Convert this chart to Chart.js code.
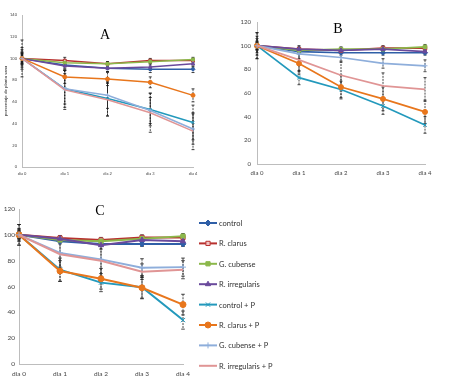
<!DOCTYPE html>
<html>

<head>
    <meta charset="utf-8">
    <title>porcentaje de planta sana</title>
    <script src="https://cdn.jsdelivr.net/npm/chart.js@4.4.6/dist/chart.umd.min.js"></script>
    <style>
        body { margin: 0; background: #fff; }
        #wrap { position: relative; width: 450px; height: 383px; overflow: hidden; }
        canvas { position: absolute; }
    </style>
</head>

<body>
    <div id="wrap">
        <canvas id="chartA" width="205" height="180" style="left:0;top:0"></canvas>
        <canvas id="chartB" width="225" height="180" style="left:225px;top:0"></canvas>
        <canvas id="chartC" width="450" height="193" style="left:0;top:190px"></canvas>
    </div>
    <script>
        const days = ["dia 0", "dia 1", "dia 2", "dia 3", "dia 4"]
        const seriesNames = ["control", "R. clarus", "G. cubense", "R. irregularis",
            "control + P", "R. clarus + P", "G. cubense + P", "R. irregularis + P"]

        // panel A (one row per series, same order as seriesNames)
        const valuesA = [
            [100, 94, 91, 90, 90],
            [100, 98, 95, 98, 98],
            [100, 96, 95, 97, 99],
            [100, 93, 91, 92, 95],
            [100, 72, 63, 53, 41],
            [100, 83, 81, 78, 66],
            [100, 72, 66, 52, 35],
            [100, 71, 62, 50, 33],
        ]
        const errorsA = [
            [5, 3, 3, 3, 3],
            [3, 3, 2, 2, 2],
            [4, 3, 2, 2, 2],
            [5, 3, 3, 3, 3],
            [17, 17, 16, 15, 16],
            [10, 6, 6, 5, 6],
            [6, 14, 12, 12, 14],
            [8, 18, 15, 18, 17],
        ]

        // panel B
        const valuesB = [
            [100, 95, 94, 94, 94],
            [100, 97, 96, 98, 98],
            [100, 96, 97, 97, 99],
            [100, 97, 96, 97, 95],
            [100, 73, 63, 49, 33],
            [100, 85, 65, 55, 44],
            [100, 93, 90, 85, 83],
            [100, 88, 75, 66, 63],
        ]
        const errorsB = [
            [4, 2, 2, 2, 2],
            [3, 2, 2, 2, 2],
            [3, 2, 2, 2, 2],
            [11, 3, 2, 2, 2],
            [11, 6, 7, 7, 7],
            [6, 9, 10, 10, 10],
            [3, 4, 4, 4, 5],
            [8, 10, 12, 11, 10],
        ]

        // panel C
        const valuesC = [
            [100, 95, 93, 93, 93],
            [100, 97.5, 96, 98, 98],
            [100, 96, 95, 97, 99],
            [100, 97, 92, 96, 95],
            [100, 73, 63, 59.5, 34],
            [100, 72, 66, 59, 46],
            [100, 86, 81, 74.5, 75],
            [100, 85, 80, 71.5, 73],
        ]
        const errorsC = [
            [3, 2, 2, 2, 2],
            [2, 2, 2, 2, 2],
            [2, 2, 2, 2, 2],
            [8, 2, 3, 2, 2],
            [8, 9, 7, 9, 7],
            [5, 8, 8, 8, 8],
            [4, 12, 14, 7, 7],
            [3, 10, 12, 6, 7],
        ]

        const colors = ["#2f5fa7", "#b8312f", "#8cb84b", "#6a4a9c",
            "#2399bc", "#e8761c", "#8eaedb", "#e09595"]
        const fills = ["#2f5fa7", "#f2c4c4", "#8cb84b", "#6a4a9c",
            "#2399bc", "#e8761c", "#8eaedb", "#e09595"]
        const styles = ["rectRot", "rect", "rect", "triangle", "crossRot", "circle", "cross", "circle"]

        const FONT = "Lato, 'Open Sans', sans-serif"

        const errorBars = {
            id: "errorBars",
            beforeDatasetsDraw(chart, args, opts) {
                const ctx = chart.ctx
                const y = chart.scales.y
                ctx.save()
                ctx.strokeStyle = "#1a1a1a"
                ctx.lineWidth = 0.8
                chart.data.datasets.forEach((ds, i) => {
                    const meta = chart.getDatasetMeta(i)
                    ds.errors.forEach((e, j) => {
                        const px = meta.data[j].x
                        const top = y.getPixelForValue(ds.data[j] + e)
                        const bot = y.getPixelForValue(ds.data[j] - e)
                        ctx.setLineDash([2, 1])
                        ctx.beginPath()
                        ctx.moveTo(px, top); ctx.lineTo(px, bot)
                        ctx.stroke()
                        ctx.setLineDash([])
                        ctx.beginPath()
                        ctx.moveTo(px - opts.cap, top); ctx.lineTo(px + opts.cap, top)
                        ctx.moveTo(px - opts.cap, bot); ctx.lineTo(px + opts.cap, bot)
                        ctx.stroke()
                    })
                })
                ctx.restore()
            },
        }

        const panelLetter = {
            id: "panelLetter",
            afterDraw(chart, args, opts) {
                const ctx = chart.ctx
                ctx.save()
                ctx.font = opts.size + "px 'Liberation Serif', 'DejaVu Serif', serif"
                ctx.fillStyle = "#000"
                ctx.textAlign = "center"
                ctx.textBaseline = "middle"
                ctx.fillText(opts.text, opts.x, opts.y)
                ctx.restore()
            },
        }

        const sideLegend = {
            id: "sideLegend",
            afterDraw(chart, args, opts) {
                if (!opts.show) return
                const ctx = chart.ctx
                ctx.save()
                chart.data.datasets.forEach((ds, i) => {
                    const yy = opts.top + i * opts.step
                    ctx.strokeStyle = ds.borderColor
                    ctx.lineWidth = 2
                    ctx.beginPath()
                    ctx.moveTo(opts.x, yy); ctx.lineTo(opts.x + 18, yy)
                    ctx.stroke()
                    if (ds.pointRadius > 0) {
                        ctx.fillStyle = ds.pointBackgroundColor
                        ctx.strokeStyle = ds.borderColor
                        ctx.lineWidth = 1
                        Chart.helpers.drawPoint(ctx, { pointStyle: ds.pointStyle, radius: 3, rotation: 0, borderWidth: 1 }, opts.x + 9, yy)
                    }
                    ctx.fillStyle = "#333"
                    ctx.font = "7.5px " + FONT
                    ctx.textBaseline = "middle"
                    ctx.fillText(seriesNames[i], opts.x + 20, yy + 0.5)
                })
                ctx.restore()
            },
        }

        function newPanel(id, values, errors, p) {
            const datasets = seriesNames.map((name, i) => ({
                label: name,
                data: values[i],
                errors: errors[i],
                borderColor: colors[i],
                backgroundColor: fills[i],
                pointBackgroundColor: fills[i],
                pointBorderColor: colors[i],
                pointBorderWidth: 1,
                pointStyle: styles[i],
                pointRadius: i === 7 ? 0 : p.radius,
                borderWidth: p.lineWidth,
                tension: 0,
                order: 7 - i,
            }))
            const tickFont = { family: FONT, size: p.tickSize }
            return new Chart(document.getElementById(id), {
                type: "line",
                data: { labels: days, datasets: datasets },
                plugins: [errorBars, panelLetter, sideLegend],
                options: {
                    responsive: false,
                    animation: false,
                    layout: { padding: p.padding },
                    plugins: {
                        legend: { display: false },
                        tooltip: { enabled: false },
                        errorBars: { cap: p.cap },
                        panelLetter: p.letter,
                        sideLegend: p.legend || { show: false },
                    },
                    scales: {
                        x: {
                            grid: { display: false, drawTicks: false },
                            border: { color: "#bdbdbd", width: 1 },
                            ticks: { font: tickFont, color: "#444", padding: p.xPad, maxRotation: 0, autoSkip: false },
                            afterFit: s => { s.height = p.xHeight },
                        },
                        y: {
                            min: 0,
                            max: p.yMax,
                            grid: { display: false, drawTicks: false },
                            border: { color: "#bdbdbd", width: 1 },
                            ticks: { stepSize: 20, font: tickFont, color: "#444", padding: p.yPad },
                            title: p.yTitle ? {
                                display: true,
                                text: "porcentaje de planta sana",
                                font: { family: FONT, size: 4.5 },
                                color: "#222",
                                padding: 0,
                            } : { display: false },
                            afterFit: s => { s.width = p.yWidth },
                        },
                    },
                },
            })
        }

        newPanel("chartA", valuesA, errorsA, {
            radius: 2, lineWidth: 1.5, tickSize: 4, cap: 1.5, yMax: 140,
            padding: { top: 15, left: 3, right: 12, bottom: 0 },
            xHeight: 13, yWidth: 19, xPad: 4, yPad: 5, yTitle: true,
            letter: { text: "A", x: 105, y: 35, size: 14 },
        })
        newPanel("chartB", valuesB, errorsB, {
            radius: 2.5, lineWidth: 1.7, tickSize: 6, cap: 1.5, yMax: 120,
            padding: { top: 22, left: 0, right: 25, bottom: 0 },
            xHeight: 16, yWidth: 32, xPad: 5, yPad: 6,
            letter: { text: "B", x: 113, y: 29, size: 14 },
        })
        newPanel("chartC", valuesC, errorsC, {
            radius: 3, lineWidth: 2, tickSize: 6.5, cap: 1.8, yMax: 120,
            padding: { top: 19, left: 0, right: 267, bottom: 0 },
            xHeight: 19, yWidth: 19, xPad: 6, yPad: 4,
            letter: { text: "C", x: 100, y: 21, size: 14 },
            legend: { show: true, x: 199, top: 33, step: 20.4 },
        })
    </script>
</body>

</html>
